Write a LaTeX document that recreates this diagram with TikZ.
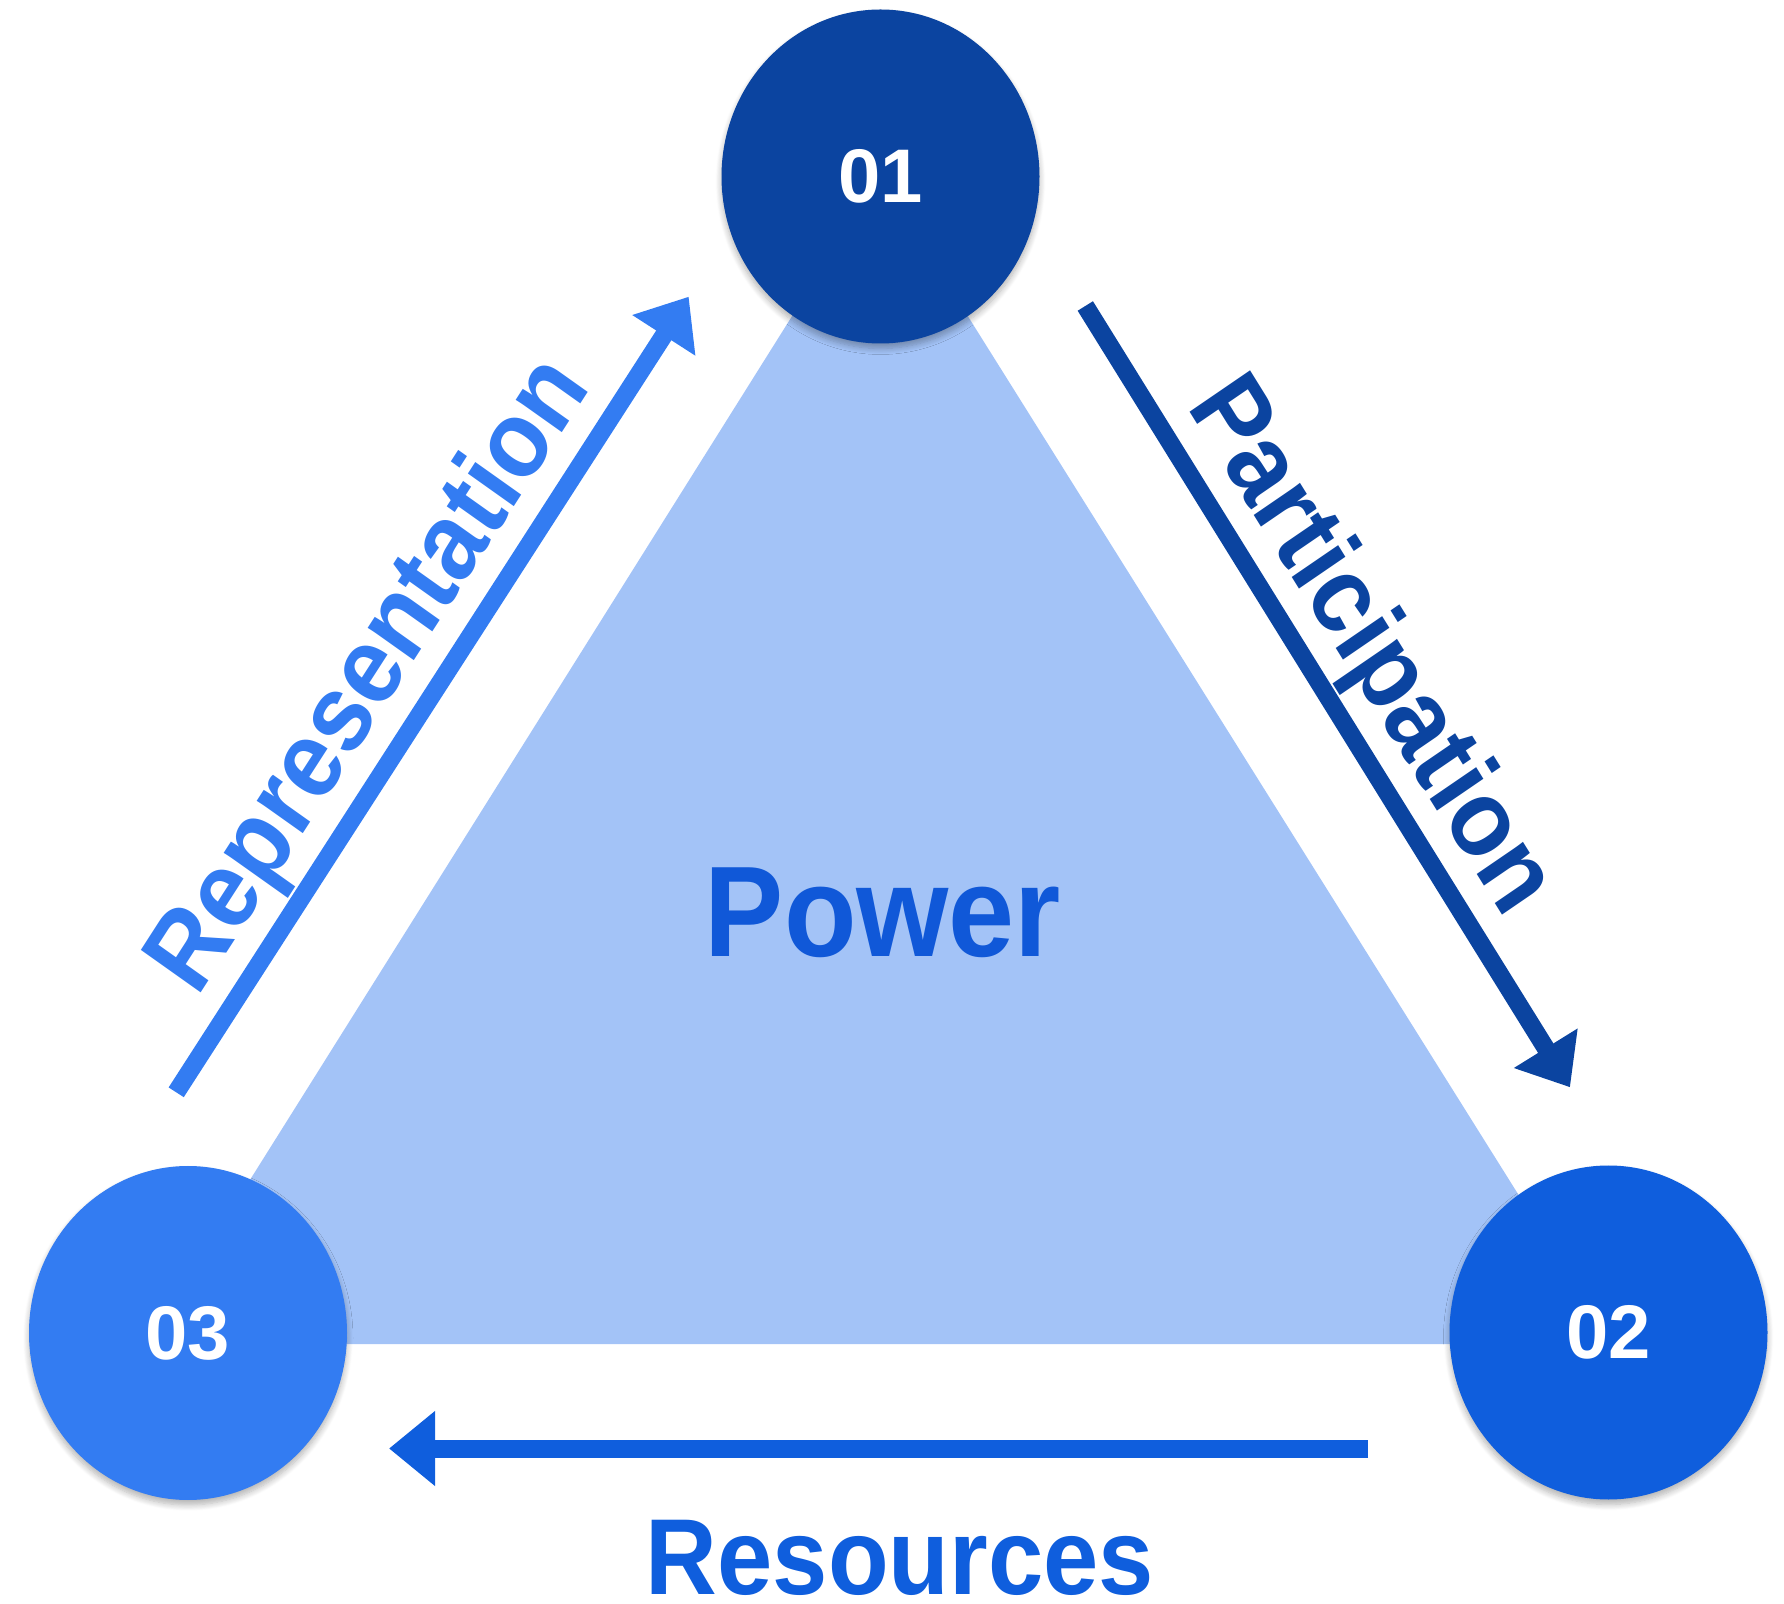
\documentclass[tikz,border=0pt]{standalone}
\usepackage{fontspec}
\setmainfont{Liberation Sans}
\newfontfamily\lblfont[FakeStretch=0.92]{Liberation Sans}
\usetikzlibrary{arrows.meta,shapes.geometric,shadows.blur}
\definecolor{cOne}{HTML}{0B44A0}
\definecolor{cTwo}{HTML}{0F5EDD}
\definecolor{cThree}{HTML}{337CF2}
\definecolor{cTri}{HTML}{A3C3F7}
\definecolor{cPow}{HTML}{1058D8}
\begin{document}
\begin{tikzpicture}[x=0.5pt,y=0.5pt,
  bubble/.style={ellipse, minimum width=159pt, minimum height=167pt, inner sep=0pt,
    text=white, font={\bfseries\fontsize{38pt}{40pt}\selectfont},
    blur shadow={shadow xshift=0pt, shadow yshift=-2.5pt, shadow blur radius=3pt,
      shadow blur steps=8, shadow opacity=30}},
  flow/.style={line width=9pt, -{Triangle[length=23pt,width=36pt]}},
  biglbl/.style={font={\lblfont\bfseries\fontsize{54pt}{60pt}\selectfont}, inner sep=0pt},
  sidelbl/.style={font={\lblfont\bfseries\fontsize{52.5pt}{60pt}\selectfont}, inner sep=0pt, anchor=base, transform shape}]
\useasboundingbox (0,0) rectangle (1784,1603);
% triangle
\fill[cTri] (880,1427) -- (147,259) -- (1612,259) -- cycle;
% circles
\node[bubble, fill=cOne] (n1) at (880.5,1426.5) {01};
\node[bubble, fill=cThree] (n3) at (188,270) {03};
\node[bubble, fill=cTwo] (n2) at (1608.5,270.5) {02};
% arrows
\coordinate (repS) at (176.2,510.7);
\coordinate (repE) at (688.7,1306.3);
\coordinate (parS) at (1085.3,1297);
\coordinate (parE) at (1570,515.7);
\coordinate (resS) at (1368,154.5);
\coordinate (resE) at (389,154.5);
\draw[flow, cThree] (repS) -- (repE);
\draw[flow, cOne] (parS) -- (parE);
\draw[flow, cTwo] (resS) -- (resE);
% texts
\node[anchor=base, inner sep=0pt, text=cPow, font={\lblfont\bfseries\fontsize{64.5pt}{70pt}\selectfont}] (pw) at (883,646.3) {Power};
\node[anchor=base, text=cTwo, biglbl] (rs) at (900,9) {Resources};
\begin{scope}[yscale=1.05]
\node[sidelbl, text=cThree, rotate=55.93] (rep) at (394.3,866.95) {Representation};
\node[sidelbl, text=cOne, rotate=-56.9] (par) at (1345.8,894.86) {Participation};
\end{scope}
\end{tikzpicture}
\end{document}
